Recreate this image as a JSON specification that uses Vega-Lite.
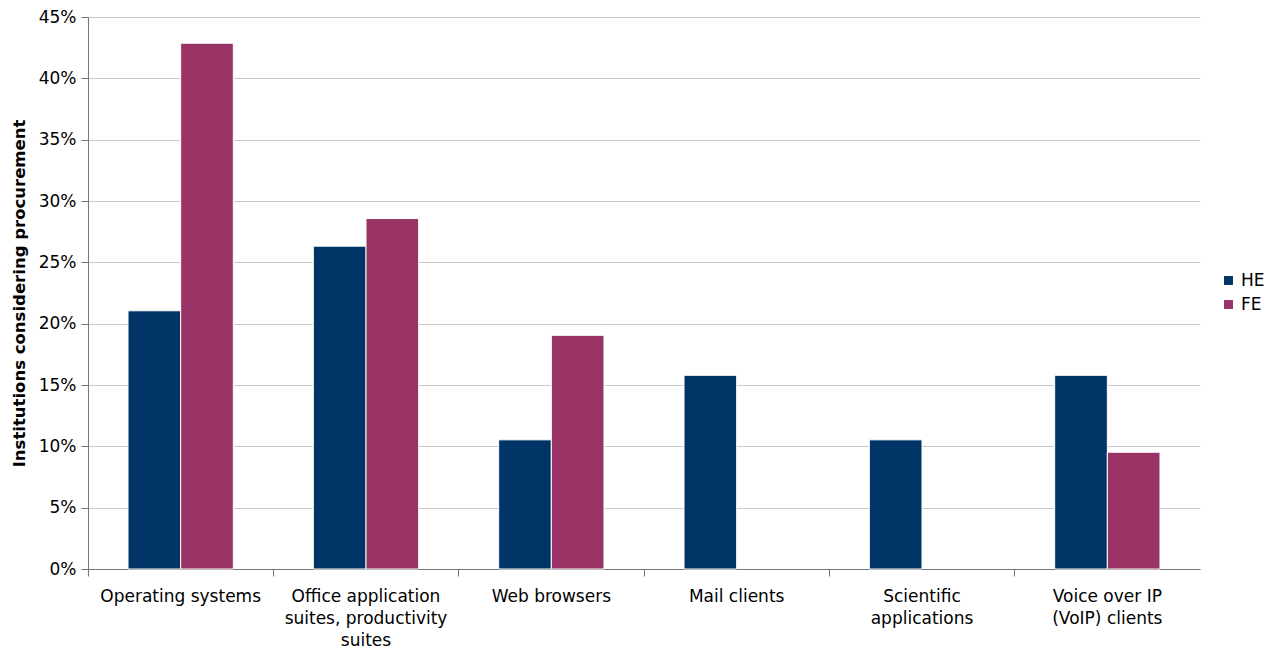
{
  "$schema": "https://vega.github.io/schema/vega-lite/v6.json",
  "width": 1112,
  "height": 552,
  "autosize": {"type": "none"},
  "padding": {"left": 88, "top": 17, "right": 70, "bottom": 79},
  "background": "white",
  "config": {
    "font": "DejaVu Sans",
    "view": {"stroke": null},
    "axis": {"labelFont": "DejaVu Sans", "labelColor": "#000000", "titleFont": "DejaVu Sans"},
    "legend": {"labelFont": "DejaVu Sans"}
  },
  "data": {
    "values": [
      {"category": "Operating systems", "group": "HE", "share": 0.2105},
      {"category": "Operating systems", "group": "FE", "share": 0.4286},
      {"category": "Office application suites, productivity suites", "group": "HE", "share": 0.2632},
      {"category": "Office application suites, productivity suites", "group": "FE", "share": 0.2857},
      {"category": "Web browsers", "group": "HE", "share": 0.1053},
      {"category": "Web browsers", "group": "FE", "share": 0.1905},
      {"category": "Mail clients", "group": "HE", "share": 0.1579},
      {"category": "Mail clients", "group": "FE", "share": 0},
      {"category": "Scientific applications", "group": "HE", "share": 0.1053},
      {"category": "Scientific applications", "group": "FE", "share": 0},
      {"category": "Voice over IP (VoIP) clients", "group": "HE", "share": 0.1579},
      {"category": "Voice over IP (VoIP) clients", "group": "FE", "share": 0.0952}
    ]
  },
  "mark": {"type": "bar", "strokeWidth": 1},
  "encoding": {
    "x": {
      "field": "category",
      "type": "nominal",
      "sort": null,
      "scale": {"paddingInner": 0, "paddingOuter": 0},
      "axis": {
        "title": null,
        "labelAngle": 0,
        "labelFontSize": 17,
        "labelPadding": 12,
        "labelLineHeight": 22,
        "labelLimit": 200,
        "bandPosition": 0,
        "tickSize": 7,
        "tickColor": "#777777",
        "domainColor": "#777777",
        "labelExpr": "datum.value == 'Office application suites, productivity suites' ? ['Office application', 'suites, productivity', 'suites'] : datum.value == 'Voice over IP (VoIP) clients' ? ['Voice over IP', '(VoIP) clients'] : datum.value == 'Scientific applications' ? ['Scientific', 'applications'] : datum.value"
      }
    },
    "xOffset": {
      "field": "group",
      "type": "nominal",
      "sort": ["HE", "FE"],
      "scale": {"paddingInner": 0, "paddingOuter": 0.76}
    },
    "y": {
      "field": "share",
      "type": "quantitative",
      "scale": {"domain": [0, 0.45]},
      "axis": {
        "title": "Institutions considering procurement",
        "titleFontSize": 16.5,
        "titleFontWeight": "bold",
        "titlePadding": 11,
        "format": ".0%",
        "values": [0, 0.05, 0.1, 0.15, 0.2, 0.25, 0.3, 0.35, 0.4, 0.45],
        "labelOverlap": false,
        "labelFontSize": 17,
        "labelPadding": 5,
        "tickSize": 7,
        "tickColor": "#777777",
        "domainColor": "#777777",
        "gridColor": "#c8c8c8",
        "grid": true
      }
    },
    "stroke": {
      "condition": {"test": "datum.share > 0", "value": "white"},
      "value": null
    },
    "color": {
      "field": "group",
      "type": "nominal",
      "sort": ["HE", "FE"],
      "scale": {"domain": ["HE", "FE"], "range": ["#003366", "#993366"]},
      "legend": {
        "title": null,
        "orient": "none",
        "legendX": 1132,
        "legendY": 255,
        "symbolType": "square",
        "symbolSize": 80,
        "symbolStrokeWidth": 0,
        "labelFontSize": 17,
        "rowPadding": 6,
        "labelOffset": 4
      }
    }
  }
}
